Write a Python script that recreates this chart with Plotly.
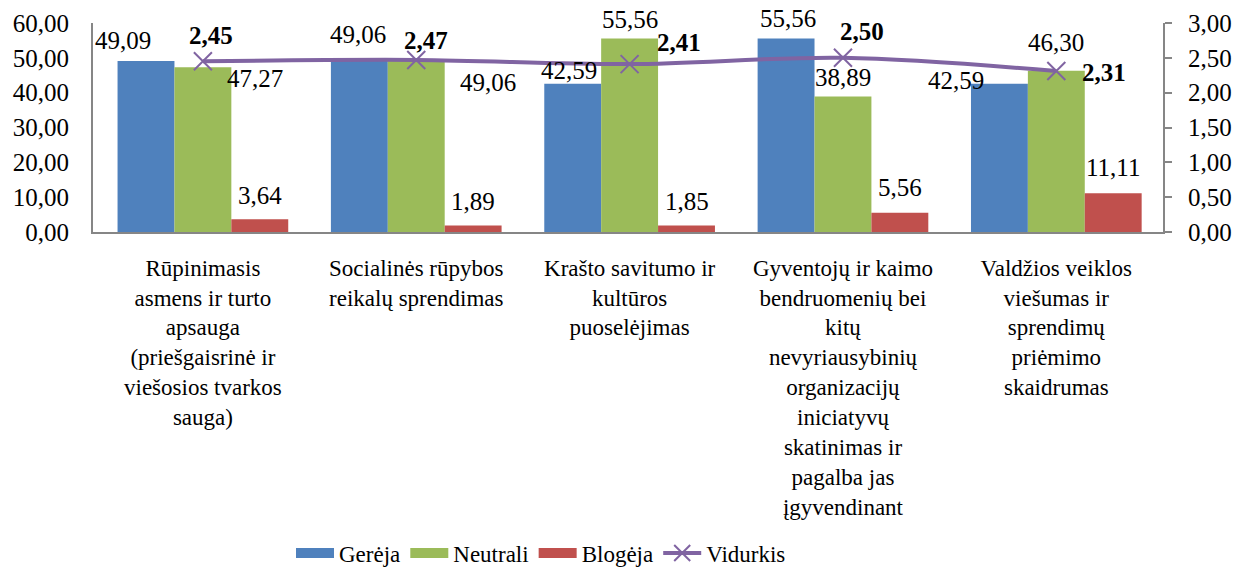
import plotly.graph_objects as go

categories = [
    "Rūpinimasis<br>asmens ir turto<br>apsauga<br>(priešgaisrinė ir<br>viešosios tvarkos<br>sauga)",
    "Socialinės rūpybos<br>reikalų sprendimas",
    "Krašto savitumo ir<br>kultūros<br>puoselėjimas",
    "Gyventojų ir kaimo<br>bendruomenių bei<br>kitų<br>nevyriausybinių<br>organizacijų<br>iniciatyvų<br>skatinimas ir<br>pagalba jas<br>įgyvendinant",
    "Valdžios veiklos<br>viešumas ir<br>sprendimų<br>priėmimo<br>skaidrumas",
]
gereja = [49.09, 49.06, 42.59, 55.56, 42.59]
neutrali = [47.27, 49.06, 55.56, 38.89, 46.30]
blogeja = [3.64, 1.89, 1.85, 5.56, 11.11]
vidurkis = [2.45, 2.47, 2.41, 2.50, 2.31]

left_ticks = [0, 10, 20, 30, 40, 50, 60]
right_ticks = [0, 0.5, 1, 1.5, 2, 2.5, 3]

FONT = "Liberation Serif, Times New Roman, serif"
BLUE, GREEN, RED, PURPLE = "#4F81BD", "#9BBB59", "#C0504D", "#8064A2"
AXIS = "#868686"

# label nudges (px) so labels sit like in the original
lab_shift = {
    "g": [(-23, 21), (-1, 27), (-4, 13), (2, 20), (-43, 3)],
    "n": [(52, -11), (72, -21), (0, 19), (0, 19), (0, 28)],
    "b": [(0, 24), (0, 24), (0, 24), (0, 25), (0, 26)],
    "v": [(8, 26), (10, 19), (49, 22), (19, 26), (48, -1)],
}

def fmt(v):
    return f"{v:.2f}".replace(".", ",")

fig = go.Figure()
bar_series = [("Gerėja", gereja, BLUE, "g"), ("Neutrali", neutrali, GREEN, "n"), ("Blogėja", blogeja, RED, "b")]
for name, vals, col, key in bar_series:
    fig.add_trace(go.Bar(x=categories, y=vals, name=name, marker=dict(color=col, line=dict(width=0)),
                         showlegend=False))
    # legend swatch as a thick line
    fig.add_trace(go.Scatter(x=[None], y=[None], mode="lines", name=name,
                             line=dict(color=col, width=14)))

fig.add_trace(go.Scatter(x=categories, y=vidurkis, name="Vidurkis", yaxis="y2",
                         mode="lines+markers", line=dict(color=PURPLE, width=4, shape="spline"),
                         marker=dict(symbol="x-thin-open", size=18, color=PURPLE,
                                     line=dict(color=PURPLE, width=2))))

annotations = []
bw = 0.8 / 3
for k, (name, vals, col, key) in enumerate(bar_series):
    for i, v in enumerate(vals):
        dx, dy = lab_shift[key][i]
        annotations.append(dict(x=i + (k - 1) * bw, y=v, xref="x", yref="y", text=fmt(v),
                                showarrow=False, xanchor="center", yanchor="middle",
                                xshift=dx, yshift=dy, font=dict(family=FONT, size=25, color="black")))
for i, v in enumerate(vidurkis):
    dx, dy = lab_shift["v"][i]
    annotations.append(dict(x=i, y=v, xref="x", yref="y2", text=f"<b>{fmt(v)}</b>",
                            showarrow=False, xanchor="center", yanchor="middle",
                            xshift=dx, yshift=dy, font=dict(family=FONT, size=25, color="black")))

fig.update_layout(
    width=1248, height=570,
    margin=dict(l=93, r=85, t=23, b=338),
    plot_bgcolor="white", paper_bgcolor="white",
    barmode="group", bargap=0.2, bargroupgap=0,
    separators=", ",
    font=dict(family=FONT, size=24, color="black"),
    xaxis=dict(showline=True, linecolor=AXIS, linewidth=2, ticks="", showgrid=False, automargin=False,
               tickfont=dict(family=FONT, size=23, color="black"), ticklabelstandoff=14),
    yaxis=dict(range=[0, 60], tickvals=left_ticks, tickformat=".2f", showline=True, automargin=False,
               linecolor=AXIS, linewidth=2, showgrid=False, zeroline=False,
               tickfont=dict(family=FONT, size=25, color="black"), ticklabelstandoff=17),
    yaxis2=dict(range=[0, 3], tickvals=right_ticks, tickformat=".2f", overlaying="y", side="right",
                showline=True, linecolor=AXIS, linewidth=2, showgrid=False, zeroline=False, automargin=False,
                ticks="outside", ticklen=7, tickcolor=AXIS, tickwidth=2,
                tickfont=dict(family=FONT, size=25, color="black"), ticklabelstandoff=11),
    legend=dict(orientation="h", x=291 / 1248, xref="container", xanchor="left",
                y=1 - 553 / 570, yref="container", yanchor="middle",
                font=dict(family=FONT, size=23, color="black"), itemwidth=38, traceorder="normal"),
    annotations=annotations,
)

fig.write_html("out.html", config={"displayModeBar": False},
               post_script="document.body.style.margin='0px';")
